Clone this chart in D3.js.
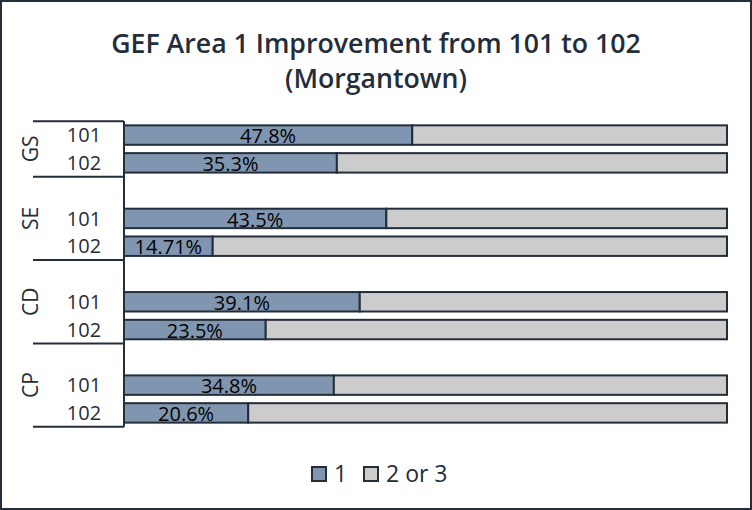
<!DOCTYPE html>
<html>
<head>
<meta charset="utf-8">
<script src="https://cdn.jsdelivr.net/npm/d3@7"></script>
<style>
  body { margin: 0; background: #fff; }
  svg { display: block; font-family: "Open Sans", "Noto Sans", sans-serif; }
</style>
</head>
<body>
<svg id="chart" width="752" height="510"></svg>
<script>
const width = 752;
const height = 510;

// groups and sub rows (each group has an empty slot on top)
const groups = ["GS", "SE", "CD", "CP"];
const rows = ["101", "102"];
const scoreOne = [47.8, 35.3, 43.5, 14.71, 39.1, 23.5, 34.8, 20.6];
const scoreTwoThree = [52.2, 64.7, 56.5, 85.29, 60.9, 76.5, 65.2, 79.4];
const seriesNames = ["1", "2 or 3"];
const colors = ["#8096b0", "#cccccc"];
const ink = "#242d3a";

const svg = d3.select("#chart");

// outer border
svg.append("rect")
  .attr("x", 1).attr("y", 1)
  .attr("width", width - 2).attr("height", height - 2)
  .attr("fill", "#fff")
  .attr("stroke", ink)
  .attr("stroke-width", 2);

// title
const title = svg.append("g")
  .attr("text-anchor", "middle")
  .attr("font-size", 26.7)
  .attr("font-weight", 600)
  .attr("fill", ink);
title.append("text").attr("x", 376).attr("y", 53)
  .text("GEF Area 1 Improvement from 101 to 102");
title.append("text").attr("x", 376).attr("y", 88)
  .text("(Morgantown)");

// slots: blank, 101, 102 per group
const slots = [];
groups.forEach(g => {
  slots.push(g + "|");
  rows.forEach(r => slots.push(g + "|" + r));
});

const y = d3.scaleBand()
  .domain(slots)
  .range([93.4, 426.8])
  .paddingInner(0.3)
  .paddingOuter(0.15);

const x = d3.scaleLinear()
  .domain([0, 100])
  .range([124, 727]);

// build table
const table = [];
groups.forEach((g, gi) => {
  rows.forEach((r, ri) => {
    const i = gi * rows.length + ri;
    table.push({ key: g + "|" + r, group: g, row: r, a: scoreOne[i], b: scoreTwoThree[i] });
  });
});

const stacked = d3.stack().keys(["a", "b"])(table);

const barG = svg.append("g");
stacked.forEach((layer, li) => {
  barG.selectAll(null)
    .data(layer)
    .enter()
    .append("rect")
    .attr("x", d => x(d[0]))
    .attr("y", d => y(d.data.key))
    .attr("width", d => x(d[1]) - x(d[0]))
    .attr("height", y.bandwidth())
    .attr("fill", colors[li])
    .attr("stroke", ink)
    .attr("stroke-width", 2);
});

// data labels
svg.append("g")
  .selectAll("text")
  .data(table)
  .enter()
  .append("text")
  .attr("x", d => (x(0) + x(d.a)) / 2)
  .attr("y", d => y(d.key) + y.bandwidth() - 1.5)
  .attr("text-anchor", "middle")
  .attr("font-size", 20)
  .attr("fill", "#000")
  .text(d => d.a + "%");

// category axis
const step = y.step();
const gap = y.paddingInner() * step / 2;
const bandTop = g => y(g + "|") - gap;
const bandBottom = g => y(g + "|102") + y.bandwidth() + gap;

const axisG = svg.append("g").attr("stroke", ink).attr("stroke-width", 2);
const topLine = y(groups[0] + "|101") - gap;
axisG.append("line")
  .attr("x1", x(0)).attr("x2", x(0))
  .attr("y1", topLine).attr("y2", bandBottom(groups[groups.length - 1]));
axisG.append("line")
  .attr("x1", 33).attr("x2", x(0))
  .attr("y1", topLine).attr("y2", topLine);
groups.forEach(g => {
  axisG.append("line")
    .attr("x1", 33).attr("x2", x(0))
    .attr("y1", bandBottom(g)).attr("y2", bandBottom(g));
});

// row labels
svg.append("g")
  .selectAll("text")
  .data(table)
  .enter()
  .append("text")
  .attr("x", 84)
  .attr("y", d => y(d.key) + y.bandwidth() / 2)
  .attr("dy", "0.36em")
  .attr("text-anchor", "middle")
  .attr("font-size", 20)
  .attr("fill", ink)
  .text(d => d.row);

// group labels
svg.append("g")
  .selectAll("text")
  .data(groups)
  .enter()
  .append("text")
  .attr("transform", (g, i) => {
    const t = i === 0 ? topLine : bandTop(g);
    const cy = (t + bandBottom(g)) / 2;
    return `translate(30,${cy}) rotate(-90)`;
  })
  .attr("dy", "0.36em")
  .attr("text-anchor", "middle")
  .attr("font-size", 21)
  .attr("fill", ink)
  .text(g => g);

// legend
const legend = svg.append("g");
const legendItems = [
  { name: seriesNames[0], color: colors[0], x: 312 },
  { name: seriesNames[1], color: colors[1], x: 364 }
];
legendItems.forEach(it => {
  legend.append("rect")
    .attr("x", it.x).attr("y", 467)
    .attr("width", 14).attr("height", 14)
    .attr("fill", it.color)
    .attr("stroke", ink)
    .attr("stroke-width", 2);
  legend.append("text")
    .attr("x", it.x + 22).attr("y", 474)
    .attr("dy", "0.36em")
    .attr("font-size", 23)
    .attr("fill", ink)
    .text(it.name);
});
</script>
</body>
</html>
